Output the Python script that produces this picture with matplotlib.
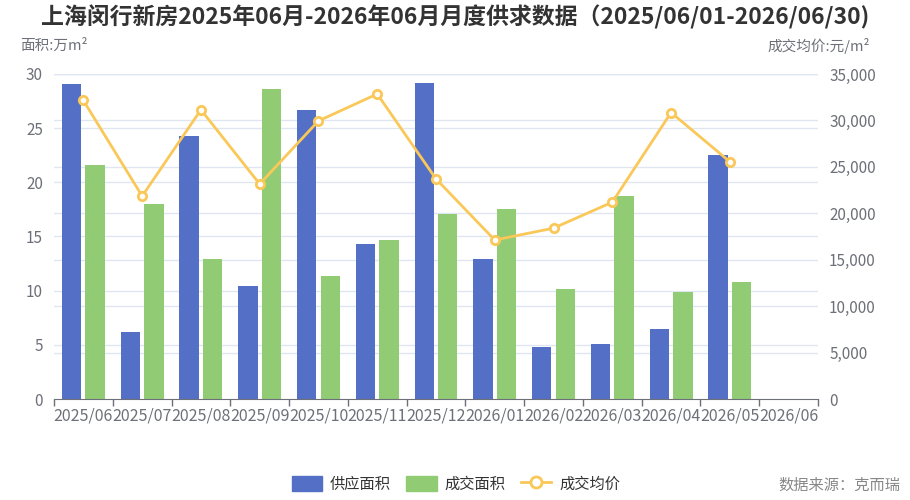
import numpy as np
import matplotlib
matplotlib.use("Agg")
import matplotlib.pyplot as plt
from matplotlib.patches import Patch
from matplotlib.lines import Line2D
from matplotlib.ticker import FuncFormatter

plt.rcParams['font.family'] = ['Noto Sans CJK SC', 'DejaVu Sans']

# data
months = ['2025/06', '2025/07', '2025/08', '2025/09', '2025/10', '2025/11', '2025/12',
          '2026/01', '2026/02', '2026/03', '2026/04', '2026/05', '2026/06']
supply_area = [29.1, 6.2, 24.3, 10.4, 26.7, 14.3, 29.2, 12.9, 4.8, 5.1, 6.5, 22.5, np.nan]
sold_area = [21.6, 18.0, 12.9, 28.6, 11.4, 14.7, 17.1, 17.5, 10.2, 18.7, 9.9, 10.8, np.nan]
avg_price = [32150, 21850, 31150, 23150, 29950, 32850, 23700, 17120, 18400, 21200, 30850, 25550, np.nan]

BLUE = '#5470c6'
GREEN = '#91cc75'
YELLOW = '#fac858'
AXIS_GREY = '#6e7079'
GRID = '#e0e6f1'

fig = plt.figure(figsize=(9.1, 5), dpi=100)
ax = fig.add_axes([54 / 910, 101 / 500, 764 / 910, 325 / 500])
ax2 = ax.twinx()

x = np.arange(len(months))
bw = 0.33

# grid lines for both axes, drawn under the bars
left_ticks = np.arange(0, 31, 5)
right_ticks = np.arange(0, 35001, 5000)
for v in left_ticks[1:]:
    ax.axhline(v, color=GRID, lw=1, zorder=0)
for v in right_ticks[1:]:
    ax.axhline(v * 30 / 35000, color=GRID, lw=1, zorder=0)

ax.bar(x - 0.2, supply_area, bw, color=BLUE, zorder=2)
ax.bar(x + 0.2, sold_area, bw, color=GREEN, zorder=2)

ax2.plot(x, avg_price, color=YELLOW, lw=2, marker='o', ms=6,
         markerfacecolor='white', markeredgecolor=YELLOW, markeredgewidth=2, zorder=3)

ax.set_xlim(-0.5, len(months) - 0.5)
ax.set_ylim(0, 30)
ax2.set_ylim(0, 35000)

ax.set_yticks(left_ticks)
ax2.set_yticks(right_ticks)
ax2.yaxis.set_major_formatter(FuncFormatter(lambda v, p: f'{int(v):,}'))

# category ticks at boundaries, labels at centres
ax.set_xticks(np.arange(-0.5, len(months), 1))
ax.set_xticklabels([])
ax.set_xticks(x, minor=True)
ax.set_xticklabels(months, minor=True)
ax.tick_params(axis='x', which='major', length=5, color=AXIS_GREY, width=1)
ax.tick_params(axis='x', which='minor', length=0, pad=6, labelsize=11.5, labelcolor=AXIS_GREY)
ax.tick_params(axis='y', length=0, pad=8, labelsize=11, labelcolor=AXIS_GREY)
ax2.tick_params(axis='y', length=0, pad=8, labelsize=11, labelcolor=AXIS_GREY)

for a in (ax, ax2):
    for s in ('top', 'left', 'right'):
        a.spines[s].set_visible(False)
ax2.spines['bottom'].set_visible(False)
ax.spines['bottom'].set_color(AXIS_GREY)
ax.spines['bottom'].set_zorder(4)
ax2.patch.set_visible(False)

fig.text(0.5, 1 - 17 / 500, '上海闵行新房2025年06月-2026年06月月度供求数据（2025/06/01-2026/06/30)',
         ha='center', va='center', fontsize=16.5, fontweight='bold', color='#333333')
fig.text(20 / 910, 1 - 46 / 500, '面积:万m²', ha='left', va='center', fontsize=10.5, color=AXIS_GREY)
fig.text(870 / 910, 1 - 46 / 500, '成交均价:元/m²', ha='right', va='center', fontsize=10.5, color=AXIS_GREY)
fig.text(900 / 910, 1 - 485 / 500, '数据来源：克而瑞', ha='right', va='center', fontsize=11, color='#888888')

handles = [Patch(facecolor=BLUE, edgecolor=BLUE),
           Patch(facecolor=GREEN, edgecolor=GREEN),
           Line2D([0], [0], color=YELLOW, lw=2, marker='o', ms=8,
                  markerfacecolor='white', markeredgecolor=YELLOW, markeredgewidth=2)]
fig.legend(handles, ['供应面积', '成交面积', '成交均价'], loc='center',
           bbox_to_anchor=(456 / 910, 1 - 484 / 500), ncol=3, frameon=False,
           fontsize=11, handlelength=2.0, handleheight=1.2, columnspacing=1.0,
           handletextpad=0.5, labelcolor='#333333')

fig.savefig('out.png', dpi=100)
